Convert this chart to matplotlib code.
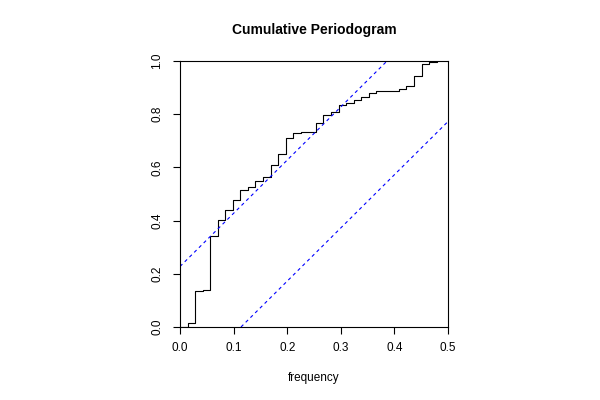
import numpy as np
import matplotlib
matplotlib.use('Agg')
import matplotlib.pyplot as plt

# cumulative periodogram levels, one per Fourier frequency k/71
cum_values = [0.0, 0.014, 0.134, 0.138, 0.342, 0.402, 0.439, 0.477, 0.515, 0.525,
              0.549, 0.565, 0.609, 0.650, 0.711, 0.731, 0.732, 0.733, 0.768, 0.797,
              0.809, 0.835, 0.843, 0.853, 0.864, 0.879, 0.886, 0.888, 0.889, 0.895,
              0.906, 0.945, 0.989, 0.997, 1.0]
series_length = 71
freq = np.arange(len(cum_values)) / series_length

# confidence band offset and axis ranges
crit = 0.2275
x_max = 0.5
x_ticks = [0.0, 0.1, 0.2, 0.3, 0.4, 0.5]
y_ticks = [0.0, 0.2, 0.4, 0.6, 0.8, 1.0]

plt.rcParams['font.family'] = ['Liberation Sans', 'DejaVu Sans']

fig = plt.figure(figsize=(6, 4), dpi=100)
ax = fig.add_axes([0.3, 0.1825, 0.4467, 0.665])

ax.step(freq, cum_values, where='post', color='black', linewidth=0.8)
ax.plot([0, x_max * (1 - crit)], [crit, 1], color='blue', linewidth=0.8, linestyle=(0, (3, 3)))
ax.plot([x_max * crit, x_max], [0, 1 - crit], color='blue', linewidth=0.8, linestyle=(0, (3, 3)))

ax.set_xlim(0, x_max)
ax.set_ylim(0, 1)
ax.set_xticks(x_ticks)
ax.set_xticklabels(['%.1f' % v for v in x_ticks])
ax.set_yticks(y_ticks)
ax.set_yticklabels(['%.1f' % v for v in y_ticks], rotation=90, va='center')
ax.tick_params(direction='out', length=5, width=0.8, labelsize=8.5, pad=6)
ax.tick_params(axis='y', pad=7)
for sp in ax.spines.values():
    sp.set_linewidth(0.8)

fig.text(0.5233, 0.925, 'Cumulative Periodogram', ha='center', va='center',
         fontsize=10, fontweight='bold')
fig.text(0.5233, 0.055, 'frequency', ha='center', va='center', fontsize=8.5)

fig.savefig('out.png', dpi=100)
